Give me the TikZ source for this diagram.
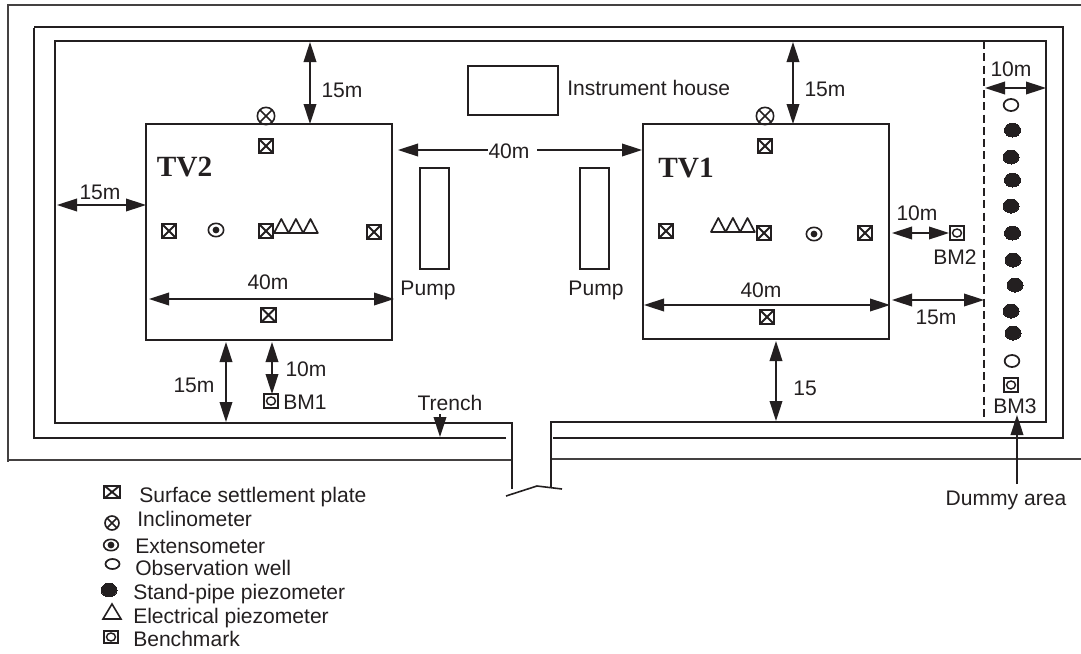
\documentclass[tikz,border=0pt]{standalone}
\usepackage{fontspec}
\setmainfont{Liberation Sans}
\newfontfamily\tvfont{Liberation Serif}
\usetikzlibrary{arrows.meta,shapes.geometric}
\definecolor{ink}{HTML}{231F20}
\tikzset{
  x=0.75pt,y=-0.75pt,
  wall/.style={draw=ink,line width=1.2pt},
  thinwall/.style={draw=ink!85,line width=1.1pt},
  boxnode/.style={draw=ink,line width=1.2pt,rectangle,inner sep=0pt,outer sep=0pt,fill=white},
  dimen/.style={ink,line width=1.15pt,{Triangle[length=15pt,width=9.5pt]}-{Triangle[length=15pt,width=9.5pt]}},
  headonly/.style={ink,line width=1.15pt,-{Triangle[length=15pt,width=9.5pt]}},
  lab/.style={text=ink,inner sep=0pt,font=\fontsize{15.8}{18}\selectfont},
  labc/.style={lab,anchor=base},
  labl/.style={lab,anchor=base west},
  symb/.style={draw=ink,line width=1.5pt,inner sep=0pt,outer sep=0pt},
  plate/.style={symb,rectangle,minimum size=11pt,path picture={
    \draw[ink,line width=1.4pt] (path picture bounding box.north west)--(path picture bounding box.south east)
      (path picture bounding box.north east)--(path picture bounding box.south west);}},
  incl/.style={symb,circle,line width=1.2pt,minimum size=13pt,path picture={
    \draw[ink,line width=1.1pt] (path picture bounding box.north west)--(path picture bounding box.south east)
      (path picture bounding box.north east)--(path picture bounding box.south west);}},
  exten/.style={symb,ellipse,line width=1.2pt,minimum width=11.5pt,minimum height=10pt,path picture={
    \fill[ink] (path picture bounding box.center) circle[radius=3.4];}},
  obswell/.style={symb,ellipse,line width=1.3pt,minimum width=11pt,minimum height=9pt},
  piezo/.style={symb,ellipse,fill=ink,line width=0pt,minimum width=12pt,minimum height=10.5pt},
  bench/.style={symb,rectangle,line width=1.3pt,minimum size=10.5pt,path picture={
    \draw[ink,line width=1.1pt] (path picture bounding box.center) ellipse[x radius=4.5,y radius=4];}},
  triple/.pic={\draw[ink,line width=1.3pt,line join=round]
    (0,0)--(7.3,-14)--(14.6,0)--(21.9,-14)--(29.2,0)--(36.5,-14)--(43.8,0)--cycle;},
  onetri/.pic={\draw[ink,line width=1.2pt,line join=miter] (-9,0)--(0,-15)--(9,0)--cycle;}
}
\begin{document}
\begin{tikzpicture}
\useasboundingbox (0,0) rectangle (1081,653);
% site lines
\draw[thinwall] (1081,5)--(8,5)--(8,462);
\draw[thinwall] (8,460)--(512,460);
\draw[thinwall] (551,459)--(1081,459);
\draw[wall] (506,438)--(34,438)--(34,28);
\draw[wall] (34,27)--(1063,27)--(1063,438)--(553,438);
\draw[wall] (512,489)--(512,423)--(55,423)--(55,41)--(1046,41)--(1046,422)--(551,422)--(551,487);
\draw[wall] (506,496)--(537,486)--(562,489);
\draw[ink,line width=1.15pt,dash pattern=on 6pt off 3.2pt] (984,41)--(984,419);
% boxes
\node[boxnode,minimum width=246*0.75pt,minimum height=216*0.75pt] (tv2) at (269,232) {};
\node[boxnode,minimum width=246*0.75pt,minimum height=215*0.75pt] (tv1) at (766,231.5) {};
\node[boxnode,minimum width=90*0.75pt,minimum height=49*0.75pt] (house) at (513,90.5) {};
\node[boxnode,minimum width=29*0.75pt,minimum height=101*0.75pt] (pumpa) at (434.5,218.5) {};
\node[boxnode,minimum width=29*0.75pt,minimum height=101*0.75pt] (pumpb) at (594.5,218.5) {};
% TV2 instruments
\node[incl] (i2) at (266,116) {};
\node[plate] (p2t) at (266,146) {};
\node[plate] (p2l) at (169,231) {};
\node[plate] (p2m) at (266,231) {};
\node[plate] (p2r) at (374,232) {};
\node[plate] (p2b) at (268.5,315) {};
\node[exten] (e2) at (216,230) {};
\pic at (274,233) {triple};
% TV1 instruments
\node[incl] (i1) at (765,116) {};
\node[plate] (p1t) at (765,146) {};
\node[plate] (p1l) at (666,231) {};
\node[plate] (p1m) at (764,233) {};
\node[plate] (p1r) at (865,233) {};
\node[plate] (p1b) at (767,317) {};
\node[exten] (e1) at (814,234) {};
\pic at (711,232) {triple};
% benchmarks
\node[bench] (bm1) at (271,401) {};
\node[bench] (bm2) at (957,233) {};
\node[bench] (bm3) at (1011,385) {};
% dummy area
\node[obswell] (w1) at (1011,105) {};
\node[piezo] (s1) at (1012.5,130) {};
\node[piezo] (s2) at (1011,157) {};
\node[piezo] (s3) at (1012.5,180) {};
\node[piezo] (s4) at (1011,206) {};
\node[piezo] (s5) at (1012.5,233) {};
\node[piezo] (s6) at (1013,260) {};
\node[piezo] (s7) at (1015,285) {};
\node[piezo] (s8) at (1011,311) {};
\node[piezo] (s9) at (1013,333) {};
\node[obswell] (w2) at (1012,361) {};
% dimension end points
\foreach \n/\x/\y in {
  a1/310/42,a2/310/124,b1/57/205,b2/146/205,c1/398/150,c2/642/150,c3/488/150,c4/537/150,
  d1/149/299,d2/394/299,e1a/226/342,e2a/226/422,f1/272/342,f2/272/394,
  g1/793/42,g2/793/124,h1/892/233,h2/949/233,j1/644/305,j2/890/305,
  k1/892/300,k2/984/300,l1/776/341,l2/776/421,m1/985/88,m2/1046/88,
  t1/440/414,t2/440/437,u1/1017/484,u2/1017/415}
  {\coordinate (\n) at (\x,\y);}
\draw[dimen] (a1)--(a2);
\draw[dimen] (b1)--(b2);
\draw[headonly] (c3)--(c1);
\draw[headonly] (c4)--(c2);
\draw[dimen] (d1)--(d2);
\draw[dimen] (e1a)--(e2a);
\draw[dimen] (f1)--(f2);
\draw[dimen] (g1)--(g2);
\draw[dimen] (h1)--(h2);
\draw[dimen] (j1)--(j2);
\draw[dimen] (k1)--(k2);
\draw[dimen] (l1)--(l2);
\draw[dimen] (m1)--(m2);
\draw[headonly] (t1)--(t2);
\draw[headonly] (u1)--(u2);
% labels
\node[labc] (la) at (342,97) {15m};
\node[labc] (lb) at (100,199) {15m};
\node[labc] (lc) at (509,158) {40m};
\node[labc] (ld) at (268,289) {40m};
\node[labc] (le) at (194,392) {15m};
\node[labc] (lf) at (306,376) {10m};
\node[labc] (lg) at (825,96) {15m};
\node[labc] (lh) at (917,220) {10m};
\node[labc] (lj) at (761,297) {40m};
\node[labc] (lk) at (936,324) {15m};
\node[labc] (ll) at (805,395) {15};
\node[labc] (lm) at (1011,76) {10m};
\node[labl] (lhouse) at (567,95) {Instrument house};
\node[labc] (lp1) at (428,295) {Pump};
\node[labc] (lp2) at (596,295) {Pump};
\node[labl] (lb1) at (283,409) {BM1};
\node[labc] (lb2) at (955,264) {BM2};
\node[labc] (lb3) at (1015,413) {BM3};
\node[labc] (ltr) at (450,410) {Trench};
\node[labc] (ldu) at (1006,505) {Dummy area};
\node[text=ink,inner sep=0pt,font=\tvfont\bfseries\fontsize{22}{24}\selectfont] (ltv2) at (184.5,167) {TV2};
\node[text=ink,inner sep=0pt,font=\tvfont\bfseries\fontsize{22}{24}\selectfont] (ltv1) at (686,168) {TV1};
% legend
\node[plate,minimum width=11.5pt,minimum height=9.5pt] (k1s) at (112,492) {};
\node[labl] (k1t) at (139,502) {Surface settlement plate};
\node[incl,minimum size=10.5pt] (k2s) at (112,523) {};
\node[labl] (k2t) at (137,526) {Inclinometer};
\node[exten,minimum width=11pt,minimum height=8.5pt] (k3s) at (111,545) {};
\node[labl] (k3t) at (135,553) {Extensometer};
\node[obswell,minimum width=10.5pt,minimum height=7.5pt] (k4s) at (112.5,564) {};
\node[labl] (k4t) at (135,575) {Observation well};
\node[piezo,minimum width=12pt,minimum height=10pt] (k5s) at (109,590) {};
\node[labl] (k5t) at (133,599) {Stand-pipe piezometer};
\pic at (112,619) {onetri};
\node[labl] (k6t) at (133,623) {Electrical piezometer};
\node[bench,minimum width=10.5pt,minimum height=8.5pt] (k7s) at (111,637) {};
\node[labl] (k7t) at (133,646) {Benchmark};
\end{tikzpicture}
\end{document}
